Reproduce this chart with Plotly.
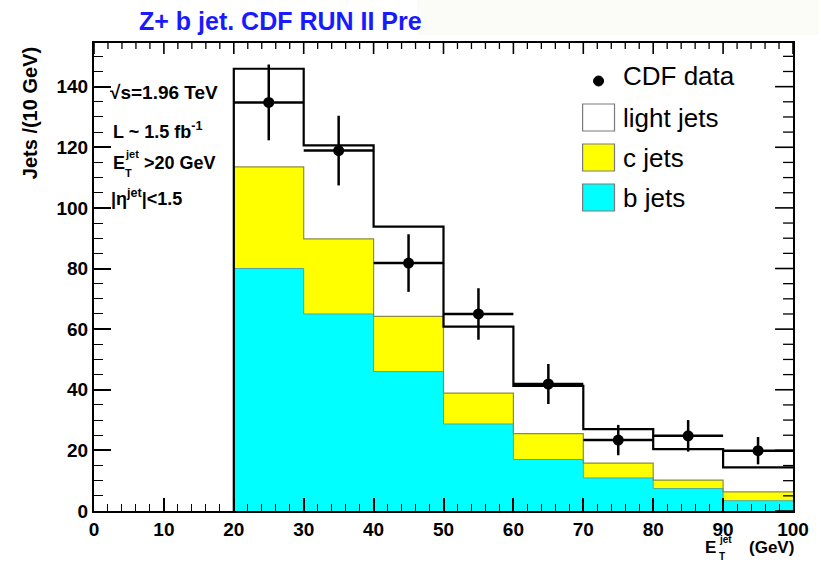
import plotly.graph_objects as go

# ---- data ----
bin_edges = [20, 30, 40, 50, 60, 70, 80, 90, 100]
b_jets = [80.0, 65.0, 46.0, 28.7, 17.0, 10.9, 7.4, 3.4]
c_jets = [33.5, 24.8, 18.2, 10.2, 8.5, 4.9, 2.8, 2.9]
light_jets = [32.4, 30.8, 29.6, 21.9, 15.8, 11.2, 10.2, 8.1]
cdf_data = [134.8, 118.9, 81.8, 65.0, 41.9, 23.4, 24.8, 19.9]
cdf_err = [12.5, 11.5, 9.5, 8.5, 6.6, 5.0, 5.2, 4.5]
x_ticks = [0, 10, 20, 30, 40, 50, 60, 70, 80, 90, 100]
y_ticks = [0, 20, 40, 60, 80, 100, 120, 140]

centers = [(a + b) / 2 for a, b in zip(bin_edges[:-1], bin_edges[1:])]
widths = [b - a for a, b in zip(bin_edges[:-1], bin_edges[1:])]
half = [w / 2 for w in widths]
cum_b = b_jets
cum_c = [b + c for b, c in zip(b_jets, c_jets)]
cum_t = [s + l for s, l in zip(cum_c, light_jets)]

CYAN = "#00ffff"
YELLOW = "#ffff00"
FONT = "Liberation Sans"
XR = [0, 100]
YR = [0, 154.4]

L, R, T, B = 94, 795, 43, 511
W, H = 821, 563
XPX = (R - L) / (XR[1] - XR[0])   # pixels per x unit
YPX = (B - T) / (YR[1] - YR[0])   # pixels per y unit

fig = go.Figure()

fig.add_trace(go.Bar(x=centers, y=light_jets, base=cum_c, width=widths,
                     marker=dict(color="white", line=dict(width=0)), showlegend=False))
fig.add_trace(go.Bar(x=centers, y=c_jets, base=cum_b, width=widths,
                     marker=dict(color=YELLOW, line=dict(width=0)), showlegend=False))
fig.add_trace(go.Bar(x=centers, y=b_jets, base=[0] * len(b_jets), width=widths,
                     marker=dict(color=CYAN, line=dict(width=0)), showlegend=False))


def step(vals):
    xs = [bin_edges[0]] + bin_edges[:-1] + [bin_edges[-1]]
    ys = [0] + list(vals) + [vals[-1]]
    return xs, ys


for vals, col, w in [(cum_b, "#4aa8a8", 1), (cum_c, "#8c8c3c", 1.2), (cum_t, "black", 2.2)]:
    xs, ys = step(vals)
    fig.add_trace(go.Scatter(x=xs, y=ys, mode="lines", line=dict(color=col, width=w, shape="hv"),
                             showlegend=False, hoverinfo="skip"))

fig.add_trace(go.Scatter(
    x=centers, y=cdf_data, mode="markers",
    marker=dict(color="black", size=11, symbol="circle"),
    error_x=dict(type="data", array=half, color="black", thickness=2.5, width=0),
    error_y=dict(type="data", array=cdf_err, color="black", thickness=2.5, width=0),
    showlegend=False))

# ---- mirrored ticks on top and right frame (axis decoration) ----
x_minor = [v for v in range(XR[0], XR[1] + 1, 2) if v not in x_ticks]
y_minor = [v for v in range(0, int(YR[1]) + 1, 5) if v not in y_ticks]


def top_ticks(vals, length_px):
    xs, ys = [], []
    for v in vals:
        xs += [v, v, None]
        ys += [YR[1], YR[1] - length_px / YPX, None]
    return xs, ys


def right_ticks(vals, length_px):
    xs, ys = [], []
    for v in vals:
        xs += [XR[1], XR[1] - length_px / XPX, None]
        ys += [v, v, None]
    return xs, ys


for fn, vals, ln, lw in [(top_ticks, x_ticks, 11, 1.6), (top_ticks, x_minor, 6, 1.3),
                         (right_ticks, y_ticks, 18, 1.6), (right_ticks, y_minor, 10, 1.3)]:
    xs, ys = fn(vals, ln)
    fig.add_trace(go.Scatter(x=xs, y=ys, mode="lines", line=dict(color="black", width=lw),
                             showlegend=False, hoverinfo="skip", cliponaxis=False))


def px(x):
    return (x - L) / (R - L)


def py(y):
    return (B - y) / (B - T)


ann = []


def text(x, y, s, size, xanchor="left", yanchor="middle", color="black", bold=True, angle=0):
    ann.append(dict(x=px(x), y=py(y), xref="paper", yref="paper", text=s, showarrow=False,
                    xanchor=xanchor, yanchor=yanchor, textangle=angle, borderpad=0,
                    font=dict(family=FONT, size=size, color=color, weight="bold" if bold else "normal")))


text(138, 21, "Z+ b jet. CDF RUN II Pre", 25, color="#1a1aff")

text(109, 93, "√s=1.96 TeV", 19)
text(112, 130, "L ~ 1.5 fb<sup>-1</sup>", 18)
text(112, 163, "E", 18)
text(124, 154, "jet", 11)
text(124, 173, "T", 11)
text(143, 163, ">20 GeV", 18)
text(110, 197, "|η<sup>jet</sup>|<1.5", 18)

text(30, 46, "Jets /(10 GeV)", 20, xanchor="center", yanchor="top", angle=-90)
text(706, 547, "E", 17)
text(720, 539, "jet", 10)
text(720, 556, "T", 10)
text(797, 547, "(GeV)", 17, xanchor="right")

text(624, 76, "CDF data", 26, bold=False)
text(624, 118, "light jets", 26, bold=False)
text(624, 158, "c jets", 26, bold=False)
text(624, 198, "b jets", 26, bold=False)

shapes = []
shapes.append(dict(type="rect", xref="paper", yref="paper", x0=px(418), x1=px(821), y0=py(35), y1=py(0),
                   fillcolor="#fbfbf8", line=dict(width=0), layer="above"))
shapes.append(dict(type="circle", xref="paper", yref="paper", x0=px(595), x1=px(605), y0=py(86), y1=py(76),
                   fillcolor="black", line=dict(color="black", width=1)))
for (y0, y1, col) in [(104, 131, "white"), (144, 171, YELLOW), (184, 211, CYAN)]:
    shapes.append(dict(type="rect", xref="paper", yref="paper", x0=px(584), x1=px(616),
                       y0=py(y1), y1=py(y0), fillcolor=col, line=dict(color="#7a7a7a", width=1.2)))

tickfont = dict(family=FONT, size=19, color="black", weight="bold")
base = dict(showgrid=False, zeroline=False, ticks="inside")

fig.update_layout(
    width=W, height=H,
    margin=dict(l=L, r=W - R, t=T, b=H - B, pad=0),
    paper_bgcolor="white", plot_bgcolor="white",
    barmode="overlay", bargap=0,
    showlegend=False,
    xaxis=dict(range=XR, tickvals=x_ticks, ticklen=13, showline=True, linecolor="black", linewidth=2,
               mirror=True, tickfont=tickfont, tickcolor="black", tickwidth=1.5,
               minor=dict(dtick=2, ticklen=7, ticks="inside", tickcolor="black", tickwidth=1.2), **base),
    yaxis=dict(range=YR, tickvals=y_ticks, ticklen=17, showline=True, linecolor="black", linewidth=2,
               mirror=True, tickfont=tickfont, tickcolor="black", tickwidth=1.5,
               minor=dict(dtick=5, ticklen=9, ticks="inside", tickcolor="black", tickwidth=1.2), **base),
    annotations=ann, shapes=shapes,
)

fig.write_html("out.html")
